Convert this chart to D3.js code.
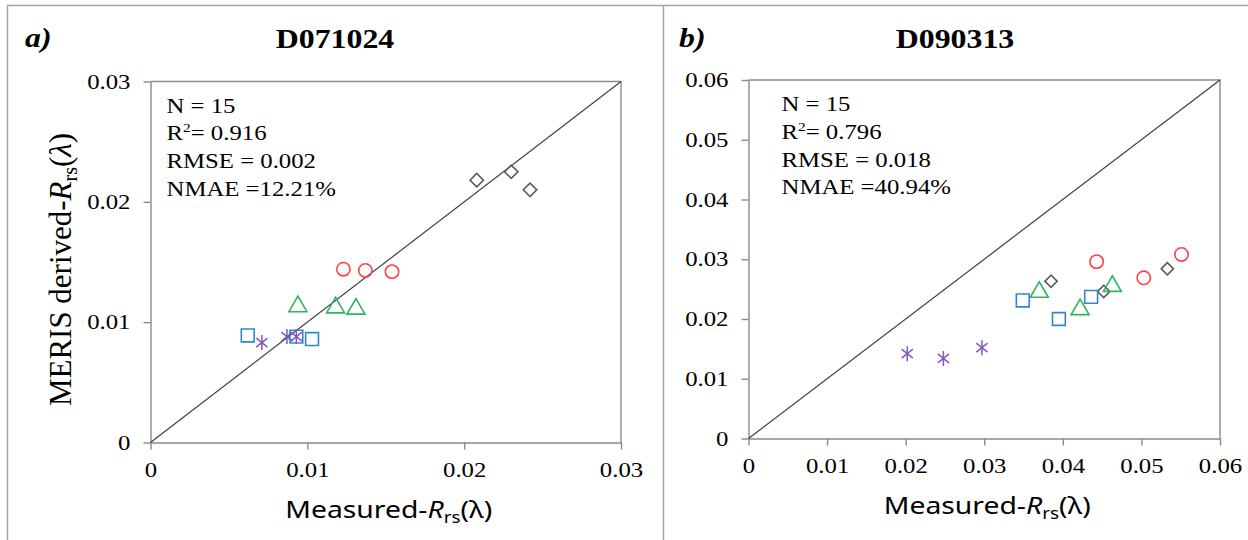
<!DOCTYPE html>
<html>
<head>
    <meta charset="utf-8">
    <title>MERIS vs measured Rrs</title>
    <style>
        body { margin: 0; background: #fff; }
        .tick text { font-family: "Liberation Serif", serif; font-size: 21px; fill: #000; }
        .tick line, .domain { stroke: #8a8a8a; stroke-width: 1.4; }
        .stat { font-family: "Liberation Serif", serif; font-size: 21px; fill: #000; }
    </style>
</head>
<body>
    <div id="chart"></div>

    <script src="https://d3js.org/d3.v7.min.js"></script>
    <script>
        // tick values
        var aTicks = [0, 0.01, 0.02, 0.03];
        var bTicks = [0, 0.01, 0.02, 0.03, 0.04, 0.05, 0.06];

        // panel a) D071024  [measured, MERIS]
        var aDiamonds  = [[0.0208, 0.0218], [0.0230, 0.0225], [0.0242, 0.0210]];
        var aCircles   = [[0.0123, 0.0144], [0.0137, 0.0143], [0.0154, 0.0142]];
        var aTriangles = [[0.0094, 0.0113], [0.0118, 0.0112], [0.0131, 0.0111]];
        var aSquares   = [[0.0062, 0.0089], [0.0093, 0.0088], [0.0103, 0.0086]];
        var aStars     = [[0.0071, 0.0083], [0.0087, 0.0088], [0.0093, 0.0088]];
        var aStats = ["N = 15", "R|2|= 0.916", "RMSE = 0.002", "NMAE =12.21%"];

        // panel b) D090313
        var bDiamonds  = [[0.0385, 0.0263], [0.0452, 0.0246], [0.0533, 0.0284]];
        var bCircles   = [[0.0443, 0.0296], [0.0503, 0.0269], [0.0551, 0.0308]];
        var bTriangles = [[0.0370, 0.0245], [0.0422, 0.0216], [0.0463, 0.0255]];
        var bSquares   = [[0.0349, 0.0231], [0.0395, 0.0200], [0.0436, 0.0237]];
        var bStars     = [[0.0202, 0.0142], [0.0248, 0.0134], [0.0297, 0.0152]];
        var bStats = ["N = 15", "R|2|= 0.796", "RMSE = 0.018", "NMAE =40.94%"];

        var W = 1248, H = 540;
        var SX = 1.18; // the source figure is stretched sideways

        var svg = d3.select("#chart").append("svg")
            .attr("width", W).attr("height", H);

        // outer frame
        var frame = svg.append("g").attr("stroke", "#a3a3a3").attr("stroke-width", 1.5);
        frame.append("line").attr("x1", 7).attr("x2", W).attr("y1", 5.5).attr("y2", 5.5);
        frame.append("line").attr("x1", 7.5).attr("x2", 7.5).attr("y1", 5).attr("y2", H);
        frame.append("line").attr("x1", 663.5).attr("x2", 663.5).attr("y1", 5).attr("y2", H);

        function star(r) {
            var a = r * 0.75, b = r * 0.6;
            return "M0," + (-r) + "L0," + r +
                "M" + (-a) + "," + (-b) + "L" + a + "," + b +
                "M" + (-a) + "," + b + "L" + a + "," + (-b);
        }

        function stretchText(sel, x, y) {
            return sel.attr("transform", "translate(" + x + "," + y + ") scale(" + SX + ",1)");
        }

        function drawPanel(p) {
            var x = d3.scaleLinear().domain([0, p.max]).range([p.left, p.right]);
            var y = d3.scaleLinear().domain([0, p.max]).range([p.bottom, p.top]);
            var g = svg.append("g");
            var fmt = function (d) { return d === 0 ? "0" : d3.format(".2f")(d); };

            var yAxis = g.append("g")
                .attr("transform", "translate(" + p.left + ",0)")
                .call(d3.axisLeft(y).tickValues(p.ticks).tickFormat(fmt).tickSize(7).tickSizeOuter(0).tickPadding(13));
            var xAxis = g.append("g")
                .attr("transform", "translate(0," + p.bottom + ")")
                .call(d3.axisBottom(x).tickValues(p.ticks).tickFormat(fmt).tickSize(7).tickSizeOuter(0).tickPadding(13));

            // widen tick labels like the source
            yAxis.selectAll(".tick text").each(function () {
                var t = d3.select(this), tx = +t.attr("x");
                t.attr("x", 0).attr("transform", "translate(" + tx + ",0) scale(" + SX + ",1)");
            });
            xAxis.selectAll(".tick text").attr("transform", "scale(" + SX + ",1)");

            // top and right of plot box
            g.append("path")
                .attr("d", "M" + p.left + "," + y(p.max) + "H" + x(p.max) + "V" + p.bottom)
                .attr("fill", "none").attr("stroke", "#8a8a8a").attr("stroke-width", 1.4);

            // 1:1 line
            g.append("line")
                .attr("x1", x(0)).attr("y1", y(0)).attr("x2", x(p.max)).attr("y2", y(p.max))
                .attr("stroke", "#404040").attr("stroke-width", 1.2);

            var marks = [
                { data: p.diamonds, color: "#5a5a5a", type: d3.symbolSquare, size: p.dSize, rot: 45 },
                { data: p.circles, color: "#ff4242", type: d3.symbolCircle, size: 140, rot: 0 },
                { data: p.triangles, color: "#2eb55a", type: d3.symbolTriangle, size: 140, rot: 0 },
                { data: p.squares, color: "#2f88cc", type: d3.symbolSquare, size: 165, rot: 0 }
            ];
            marks.forEach(function (m) {
                g.selectAll(null).data(m.data).enter().append("path")
                    .attr("d", d3.symbol().type(m.type).size(m.size))
                    .attr("transform", function (d) {
                        return "translate(" + x(d[0]) + "," + y(d[1]) + ") rotate(" + m.rot + ")";
                    })
                    .attr("fill", "none").attr("stroke", m.color).attr("stroke-width", 1.6);
            });
            g.selectAll(null).data(p.stars).enter().append("path")
                .attr("d", star(7.5))
                .attr("transform", function (d) { return "translate(" + x(d[0]) + "," + y(d[1]) + ")"; })
                .attr("fill", "none").attr("stroke", "#8657c2").attr("stroke-width", 1.5);

            // stats block
            p.stats.forEach(function (s, i) {
                var t = stretchText(g.append("text").attr("class", "stat"), p.left + p.statDx, p.top + 31 + i * 27.8);
                var parts = s.split("|");
                t.append("tspan").text(parts[0]);
                if (parts.length > 1) {
                    t.append("tspan").attr("font-size", "13px").attr("dy", "-8").text(parts[1]);
                    t.append("tspan").attr("dy", "8").text(parts[2]);
                }
            });

            // letter and title
            stretchText(g.append("text"), p.letterX, 47)
                .attr("font-family", "Liberation Serif, serif").attr("font-size", "27px")
                .attr("font-weight", "bold").attr("font-style", "italic").text(p.letter);
            stretchText(g.append("text"), p.titleX, 48)
                .attr("font-family", "Liberation Serif, serif").attr("font-size", "27px")
                .attr("font-weight", "bold").attr("text-anchor", "middle").text(p.title);

            // x label
            var xl = stretchText(g.append("text"), (p.left + p.right) / 2 + 3, p.bottom + 75)
                .attr("font-family", "Noto Sans, sans-serif").attr("font-size", "24px")
                .attr("text-anchor", "middle");
            xl.append("tspan").text("Measured-");
            xl.append("tspan").attr("font-style", "italic").text("R");
            xl.append("tspan").attr("font-size", "16px").attr("dy", "5").text("rs");
            xl.append("tspan").attr("dy", "-5").text("(λ)");

            if (p.yLabel) {
                var yl = g.append("text")
                    .attr("transform", "translate(" + (p.left - 80) + "," + (p.top + 188) + ") scale(1.05,1) rotate(-90)")
                    .attr("font-family", "Liberation Serif, serif").attr("font-size", "31px")
                    .attr("text-anchor", "middle");
                yl.append("tspan").text("MERIS derived-");
                yl.append("tspan").attr("font-style", "italic").text("R");
                yl.append("tspan").attr("font-size", "20px").attr("dy", "6").text("rs");
                yl.append("tspan").attr("dy", "-6").text("(");
                yl.append("tspan").attr("font-style", "italic").text("λ");
                yl.append("tspan").text(")");
            }
        }

        drawPanel({
            left: 150.5, right: 621, top: 81.5, bottom: 442.5, max: 0.03, ticks: aTicks,
            diamonds: aDiamonds, circles: aCircles, triangles: aTriangles, squares: aSquares, stars: aStars,
            dSize: 90, stats: aStats, statDx: 16, letter: "a)", letterX: 25, title: "D071024", titleX: 335, yLabel: true
        });
        drawPanel({
            left: 748.5, right: 1220, top: 80, bottom: 438.5, max: 0.06, ticks: bTicks,
            diamonds: bDiamonds, circles: bCircles, triangles: bTriangles, squares: bSquares, stars: bStars,
            dSize: 75, stats: bStats, statDx: 33, letter: "b)", letterX: 679, title: "D090313", titleX: 955, yLabel: false
        });
    </script>
</body>
</html>
